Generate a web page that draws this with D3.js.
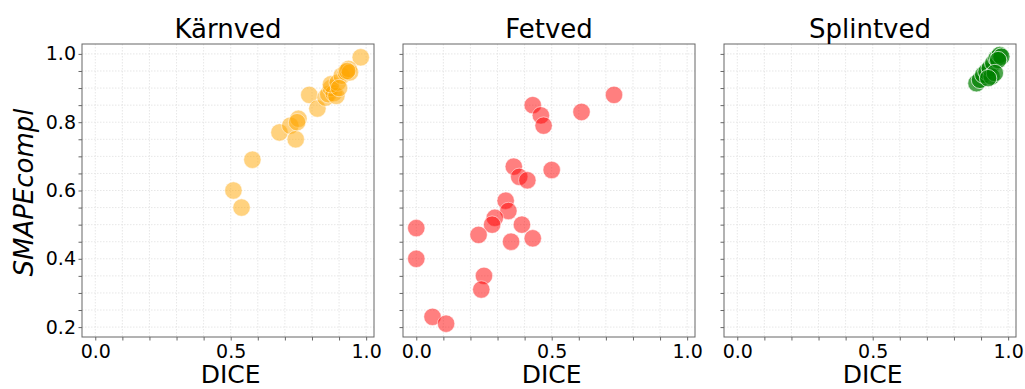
<!DOCTYPE html>
<html>
<head>
<meta charset="utf-8">
<script src="https://cdn.jsdelivr.net/npm/d3@7"></script>
<style>
  body { margin: 0; background: #fff; }
  text { font-family: "DejaVu Sans", sans-serif; }
</style>
</head>
<body>
<div id="graphic"></div>
<script>
// panel titles and colours
var titles = ["Kärnved", "Fetved", "Splintved"];
var colors = ["#FFA500", "#FF0000", "#008000"];
var alphas = [0.5, 0.5, 0.7];

// DICE (x) and SMAPEcompl (y) per panel
var karnvedX = [0.98, 0.51, 0.54, 0.58, 0.68, 0.72, 0.74, 0.75, 0.745, 0.79, 0.82, 0.85, 0.86, 0.87, 0.88, 0.89, 0.87, 0.895, 0.91, 0.925, 0.935, 0.94, 0.93, 0.9];
var karnvedY = [0.99, 0.60, 0.55, 0.69, 0.77, 0.79, 0.75, 0.81, 0.80, 0.88, 0.84, 0.872, 0.882, 0.90, 0.885, 0.877, 0.911, 0.916, 0.936, 0.946, 0.956, 0.946, 0.95, 0.90];

var fetvedX = [0.73, 0.43, 0.46, 0.47, 0.61, 0.36, 0.38, 0.41, 0.50, 0.33, 0.34, 0.29, 0.28, 0.39, 0.23, 0.35, 0.43, 0.0, 0.0, 0.25, 0.24, 0.06, 0.11];
var fetvedY = [0.88, 0.85, 0.82, 0.79, 0.83, 0.67, 0.64, 0.63, 0.66, 0.57, 0.54, 0.52, 0.50, 0.50, 0.47, 0.45, 0.46, 0.49, 0.40, 0.35, 0.31, 0.23, 0.21];

var splintvedX = [0.883, 0.896, 0.908, 0.92, 0.932, 0.945, 0.957, 0.969, 0.975, 0.963, 0.939, 0.951, 0.926];
var splintvedY = [0.914, 0.924, 0.939, 0.948, 0.958, 0.973, 0.987, 0.997, 0.992, 0.982, 0.934, 0.944, 0.929];

var seriesX = [karnvedX, fetvedX, splintvedX];
var seriesY = [karnvedY, fetvedY, splintvedY];

var xTicks = [0.0, 0.5, 1.0];
var yTicks = [0.2, 0.4, 0.6, 0.8, 1.0];

var W = 1025, H = 389;
var panelLeft = [82, 403, 724];
var panelW = 292, plotTop = 44, panelH = 293;

var svg = d3.select("#graphic").append("svg")
        .attr("width", W)
        .attr("height", H);

var y = d3.scaleLinear().domain([0.171, 1.029]).range([plotTop + panelH, plotTop]);

function isMajor(list, d) {
    return list.some(function(t) { return Math.abs(t - d) < 1e-6; });
}

titles.forEach(function(title, i) {
    var x = d3.scaleLinear().domain([-0.049, 1.029]).range([panelLeft[i], panelLeft[i] + panelW]);
    var g = svg.append("g");

    // grid (major + minor)
    var gx = d3.range(0, 1.0001, 0.1);
    var gy = d3.range(0.2, 1.0001, 0.05);
    g.selectAll(".gx").data(gx).enter().append("line")
        .attr("x1", function(d) { return x(d); })
        .attr("x2", function(d) { return x(d); })
        .attr("y1", plotTop).attr("y2", plotTop + panelH)
        .style("stroke", "#e4e4e4")
        .style("stroke-dasharray", "1.5,1.5")
        .style("stroke-width", 0.9);
    g.selectAll(".gy").data(gy).enter().append("line")
        .attr("y1", function(d) { return y(d); })
        .attr("y2", function(d) { return y(d); })
        .attr("x1", panelLeft[i]).attr("x2", panelLeft[i] + panelW)
        .style("stroke", "#e4e4e4")
        .style("stroke-dasharray", "1.5,1.5")
        .style("stroke-width", 0.9);

    // x axis
    var xAxis = d3.axisBottom(x).tickValues(gx).tickSize(3.5)
        .tickFormat(function(d) { return isMajor(xTicks, d) ? d3.format(".1f")(d) : ""; });
    var ax = svg.append("g")
        .attr("transform", "translate(0," + (plotTop + panelH) + ")")
        .call(xAxis);
    ax.select(".domain").remove();
    ax.selectAll("line").style("stroke", "#666");
    ax.selectAll("text").style("font-size", "19px").style("fill", "#000").attr("y", 8);

    // y axis
    var yAxis = d3.axisLeft(y).tickValues(gy).tickSize(3.5)
        .tickFormat(function(d) { return (i === 0 && isMajor(yTicks, d)) ? d3.format(".1f")(d) : ""; });
    var ay = svg.append("g")
        .attr("transform", "translate(" + panelLeft[i] + ",0)")
        .call(yAxis);
    ay.select(".domain").remove();
    ay.selectAll("line").style("stroke", "#666");
    ay.selectAll("text").style("font-size", "19px").style("fill", "#000").attr("x", -6);

    // points
    var pts = seriesX[i].map(function(d, j) { return [d, seriesY[i][j]]; });
    g.selectAll("circle").data(pts).enter().append("circle")
        .attr("cx", function(d) { return x(d[0]); })
        .attr("cy", function(d) { return y(d[1]); })
        .attr("r", 8.7)
        .style("fill", colors[i])
        .style("fill-opacity", alphas[i])
        .style("stroke", "#fff")
        .style("stroke-opacity", alphas[i])
        .style("stroke-width", 1);

    // frame
    g.append("rect")
        .attr("x", panelLeft[i]).attr("y", plotTop)
        .attr("width", panelW).attr("height", panelH)
        .style("fill", "none")
        .style("stroke", "#666")
        .style("stroke-width", 1);

    // title
    svg.append("text")
        .attr("x", panelLeft[i] + panelW / 2)
        .attr("y", 38)
        .attr("text-anchor", "middle")
        .style("font-size", "26px")
        .text(title);

    // x label
    svg.append("text")
        .attr("x", x(0.5))
        .attr("y", 383)
        .attr("text-anchor", "middle")
        .style("font-size", "25px")
        .text("DICE");
});

svg.append("text")
    .attr("transform", "translate(33," + (plotTop + panelH / 2 + 2) + ") rotate(-90)")
    .attr("text-anchor", "middle")
    .style("font-size", "26px")
    .style("font-style", "italic")
    .text("SMAPEcompl");
</script>
</body>
</html>
